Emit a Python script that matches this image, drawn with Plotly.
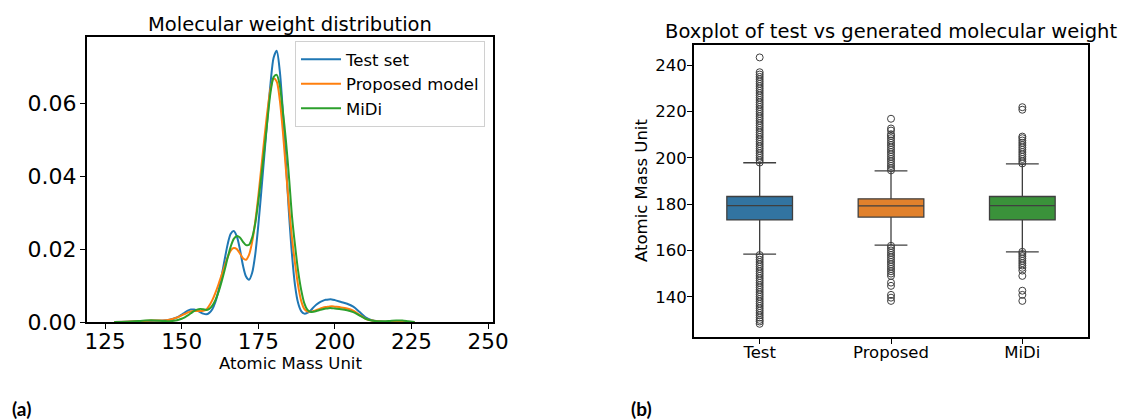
import plotly.graph_objects as go

# ---------------- KDE curves ----------------
amu = [128, 132, 136, 140, 144, 146, 148, 149, 150, 151, 152, 153, 154, 155, 156, 157, 158, 159,
       160, 161, 162, 163, 164, 165, 166, 167, 168, 169, 170, 171, 172, 173, 174, 175, 176, 177,
       178, 179, 180, 181, 182, 183, 184, 185, 186, 187, 188, 189, 190, 191, 192, 193, 194, 195,
       196, 197, 198, 199, 200, 202, 204, 206, 208, 210, 212, 214, 216, 218, 220, 222, 224, 226]

test_density = [0.0000, 0.0001, 0.0002, 0.0003, 0.0004, 0.0006, 0.0011, 0.0015, 0.0020, 0.0026,
                0.0031, 0.0034, 0.0034, 0.0031, 0.0027, 0.0023, 0.0021, 0.0025, 0.0035, 0.0055,
                0.0085, 0.0125, 0.0170, 0.0213, 0.0242, 0.0250, 0.0235, 0.0200, 0.0155, 0.0125,
                0.0116, 0.0135, 0.0185, 0.0265, 0.0360, 0.0460, 0.0560, 0.0655, 0.0725, 0.0744,
                0.0690, 0.0580, 0.0440, 0.0300, 0.0185, 0.0100, 0.0052, 0.0030, 0.0023, 0.0025,
                0.0031, 0.0040, 0.0048, 0.0054, 0.0058, 0.0061, 0.0062, 0.0062, 0.0060, 0.0055,
                0.0050, 0.0042, 0.0028, 0.0013, 0.0005, 0.0002, 0.0001, 0.0001, 0.0000, 0.0000,
                0.0000, 0.0000]

proposed_density = [0.0000, 0.0001, 0.0002, 0.0004, 0.0004, 0.0006, 0.0011, 0.0014, 0.0018, 0.0022,
                    0.0026, 0.0029, 0.0030, 0.0030, 0.0030, 0.0031, 0.0034, 0.0045, 0.0060, 0.0080,
                    0.0103, 0.0128, 0.0153, 0.0178, 0.0196, 0.0203, 0.0200, 0.0188, 0.0175, 0.0171,
                    0.0185, 0.0220, 0.0275, 0.0345, 0.0425, 0.0505, 0.0580, 0.0640, 0.0668, 0.0660,
                    0.0610, 0.0525, 0.0420, 0.0320, 0.0230, 0.0160, 0.0100, 0.0058, 0.0036, 0.0029,
                    0.0028, 0.0030, 0.0033, 0.0036, 0.0039, 0.0041, 0.0042, 0.0043, 0.0042, 0.0040,
                    0.0037, 0.0031, 0.0020, 0.0009, 0.0004, 0.0002, 0.0001, 0.0001, 0.0001, 0.0001,
                    0.0000, 0.0000]

midi_density = [0.0000, 0.0001, 0.0003, 0.0005, 0.0003, 0.0002, 0.0004, 0.0006, 0.0009, 0.0013,
                0.0018, 0.0024, 0.0030, 0.0034, 0.0036, 0.0035, 0.0033, 0.0036, 0.0045, 0.0060,
                0.0082, 0.0110, 0.0142, 0.0176, 0.0207, 0.0228, 0.0236, 0.0232, 0.0220, 0.0211,
                0.0212, 0.0232, 0.0270, 0.0330, 0.0400, 0.0475, 0.0555, 0.0630, 0.0672, 0.0678,
                0.0650, 0.0580, 0.0500, 0.0400, 0.0290, 0.0210, 0.0140, 0.0088, 0.0052, 0.0034,
                0.0028, 0.0028, 0.0030, 0.0033, 0.0035, 0.0037, 0.0038, 0.0038, 0.0037, 0.0035,
                0.0032, 0.0027, 0.0018, 0.0009, 0.0004, 0.0002, 0.0002, 0.0003, 0.0004, 0.0004,
                0.0002, 0.0000]

kde_names = ["Test set", "Proposed model", "MiDi"]
kde_colors = ["#1f77b4", "#ff7f0e", "#2ca02c"]

# ---------------- Boxplot stats ----------------
groups = ["Test", "Proposed", "MiDi"]
box_q1 = [173.2, 174.4, 173.2]
box_median = [179.4, 179.3, 179.4]
box_q3 = [183.3, 182.3, 183.3]
box_lower = [158.4, 162.3, 159.4]
box_upper = [197.9, 194.4, 197.4]
box_colors = ["#3274a1", "#e1812c", "#3a923a"]

test_outliers = [198, 199, 200, 201, 202, 203, 204, 205, 206, 207, 208, 209, 210, 211, 212, 213,
                 214, 215, 216, 217, 218, 219, 220, 221, 222, 223, 224, 225, 226, 227, 228, 229,
                 230, 231, 232, 233, 234, 235, 236, 237, 243.4,
                 158, 157, 156, 155, 154, 153, 152, 151, 150, 149, 148, 147, 146, 145, 144, 143,
                 142, 141, 140, 139, 138, 137, 136, 135, 134, 133, 132, 131, 130, 129.3, 128.3]
proposed_outliers = [194.6, 195.5, 196.5, 197.5, 198.5, 199.5, 200.5, 201.5, 202.5, 203.5, 204.5,
                     205.5, 206.5, 207.5, 208.5, 209.5, 210.2, 211.8, 212.7, 216.9,
                     162, 161, 160, 159, 158, 157, 156, 155, 154, 153, 152, 151, 150, 149,
                     146.1, 144.7, 140.8, 139.6, 138.2]
midi_outliers = [197.6, 198.5, 199.5, 200.5, 201.5, 202.5, 203.5, 204.5, 205.5, 206.5, 207.5,
                 208.5, 209.2, 220.8, 221.9,
                 159.4, 158.5, 157.5, 156.5, 155.5, 154.5, 153.5, 152.5, 151.3, 149.0,
                 142.6, 140.8, 138.2]
outliers = [test_outliers, proposed_outliers, midi_outliers]

FONT = "DejaVu Sans"
EDGE = "#3f3f3f"
W, H = 1122, 420

fig = go.Figure()

densities = [test_density, proposed_density, midi_density]
for i, (name, col, dens) in enumerate(zip(kde_names, kde_colors, densities)):
    fig.add_trace(go.Scatter(
        x=amu, y=dens, mode="lines", name=name, legendgroup=f"g{i}",
        line=dict(color=col, width=2, shape="spline", smoothing=0.8),
        xaxis="x", yaxis="y"))

for i, g in enumerate(groups):
    fig.add_trace(go.Box(
        x=[g], q1=[box_q1[i]], median=[box_median[i]], q3=[box_q3[i]],
        lowerfence=[box_lower[i]], upperfence=[box_upper[i]],
        boxpoints=False, width=0.5, whiskerwidth=0.5,
        fillcolor=box_colors[i], line=dict(color=EDGE, width=1.3),
        showlegend=False, xaxis="x2", yaxis="y2"))
    fig.add_trace(go.Scatter(
        x=[g] * len(outliers[i]), y=outliers[i], mode="markers",
        marker=dict(symbol="circle-open", size=7, color=EDGE, line=dict(width=1)),
        showlegend=False, xaxis="x2", yaxis="y2"))

axis_common = dict(showline=True, mirror=True, linecolor="black", linewidth=2,
                   ticks="outside", ticklen=5, tickwidth=1.2, tickcolor="black",
                   showgrid=False, zeroline=False, automargin=False)


def px_ann(text, x, y, size, family=FONT, angle=0):
    return dict(text=text, x=x / W, y=1 - y / H, xref="paper", yref="paper",
                xanchor="center", yanchor="middle", showarrow=False, textangle=angle,
                font=dict(size=size, family=family, color="black"))


fig.update_layout(
    width=W, height=H, autosize=False,
    margin=dict(l=0, r=0, t=0, b=0, pad=0),
    paper_bgcolor="white", plot_bgcolor="white",
    font=dict(family=FONT, color="black"),
    showlegend=True,
    legend=dict(x=485 / W, y=1 - 41 / H, xanchor="right", yanchor="top",
                bgcolor="rgba(255,255,255,0.8)", bordercolor="#d0d0d0", borderwidth=1,
                font=dict(size=16.5, family=FONT), tracegroupgap=0,
                itemwidth=40),
    xaxis=dict(domain=[87 / W, 493 / W], range=[119.1, 251.6],
               tickvals=[125, 150, 175, 200, 225, 250],
               tickfont=dict(size=21.5), ticklabelstandoff=-6,
               anchor="y", **axis_common),
    yaxis=dict(domain=[1 - 322 / H, 1 - 37 / H], range=[0, 0.0782],
               tickvals=[0, 0.02, 0.04, 0.06], tickformat=".2f",
               tickfont=dict(size=22), ticklabelstandoff=-1, anchor="x", **axis_common),
    xaxis2=dict(domain=[694 / W, 1088 / W], range=[-0.5, 2.5], type="category",
                categoryorder="array", categoryarray=groups,
                tickfont=dict(size=16.5), ticklabelstandoff=-6, anchor="y2", **axis_common),
    yaxis2=dict(domain=[1 - 337 / H, 1 - 44.7 / H], range=[122.6, 248.9],
                tickvals=[140, 160, 180, 200, 220, 240],
                tickfont=dict(size=16.5), ticklabelstandoff=-3,
                anchor="x2", **axis_common),
    annotations=[
        px_ann("Molecular weight distribution", 290, 24, 19.5),
        px_ann("Boxplot of test vs generated molecular weight", 891, 31.5, 19.5),
        px_ann("Atomic Mass Unit", 290, 363, 16.5),
        px_ann("Atomic Mass Unit", 642, 191, 16.5, angle=-90),
        px_ann("<b>(a)</b>", 21.5, 408, 19, "Lato"),
        px_ann("<b>(b)</b>", 641.5, 408, 19, "Lato"),
    ],
)

fig.write_html("out.html")
